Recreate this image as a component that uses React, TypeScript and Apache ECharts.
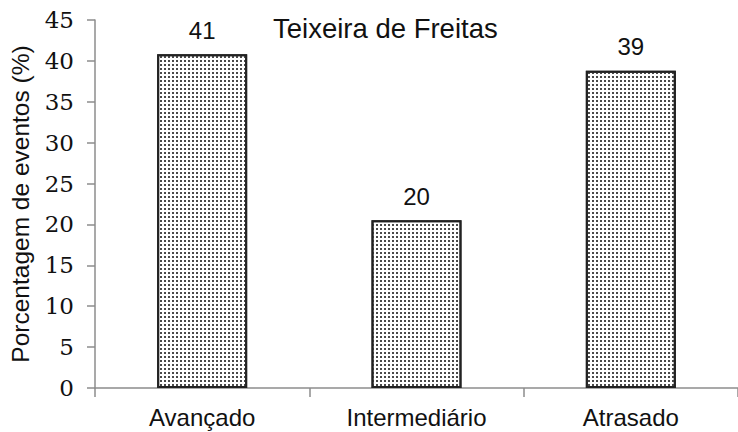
import React, { useEffect, useRef } from "react";
import * as echarts from "echarts";

const categories = ["Avançado", "Intermediário", "Atrasado"];
const values = [40.8, 20.5, 38.8];
const valueLabels = ["41", "20", "39"];
const yTicks = { min: 0, max: 45, interval: 5 };
const title = "Teixeira de Freitas";
const yName = "Porcentagem de eventos (%)";

export default function App() {
  const ref = useRef<HTMLDivElement>(null);
  useEffect(() => {
    document.body.style.margin = "0";
    const chart = echarts.init(ref.current!, null, { renderer: "svg" });
    chart.setOption({
      animation: false,
      backgroundColor: "#ffffff",
      title: {
        text: title,
        left: 268,
        top: 9,
        textStyle: { fontFamily: "Liberation Sans", fontSize: 27.5, fontWeight: "normal", color: "#111" },
      },
      grid: { left: 86, right: -6, top: 20, bottom: 44, containLabel: false },
      xAxis: {
        type: "category",
        data: categories,
        axisLine: { lineStyle: { color: "#8c8c8c", width: 1.5 } },
        axisTick: { show: true, length: 9, lineStyle: { color: "#8c8c8c", width: 1.5 } },
        axisLabel: { margin: 17, fontFamily: "Liberation Sans", fontSize: 24, color: "#111" },
      },
      yAxis: {
        type: "value",
        min: yTicks.min,
        max: yTicks.max,
        interval: yTicks.interval,
        name: yName,
        nameLocation: "middle",
        nameGap: 62,
        nameTextStyle: { fontFamily: "Liberation Sans", fontSize: 24.5, color: "#111" },
        splitLine: { show: false },
        axisLine: { show: true, lineStyle: { color: "#8c8c8c", width: 1.5 } },
        axisTick: { show: true, length: 8, lineStyle: { color: "#8c8c8c", width: 1.5 } },
        axisLabel: {
          margin: 21,
          color: "#111",
          fontFamily: "DejaVu Serif",
          fontSize: 23,
          formatter: "{s|{value}}",
          rich: { s: { fontFamily: "DejaVu Serif", fontSize: 23, color: "#111" } },
        },
      },
      series: [
        {
          type: "bar",
          data: values,
          barWidth: 90,
          itemStyle: {
            color: "#ffffff",
            borderColor: "#222",
            borderWidth: 2,
            decal: {
              symbol: "rect",
              symbolSize: 1,
              dashArrayX: [1.5, 1.5],
              dashArrayY: [1.5, 1.5],
              color: "#4a4a4a",
              rotation: 0,
            },
          },
          label: {
            show: true,
            position: "top",
            distance: 12,
            fontFamily: "Liberation Sans",
            fontSize: 24,
            color: "#111",
            formatter: (p: any) => valueLabels[p.dataIndex],
          },
        },
      ],
    });
    return () => chart.dispose();
  }, []);
  return <div ref={ref} style={{ position: "absolute", left: 0, top: 0, width: 738, height: 432 }} />;
}
